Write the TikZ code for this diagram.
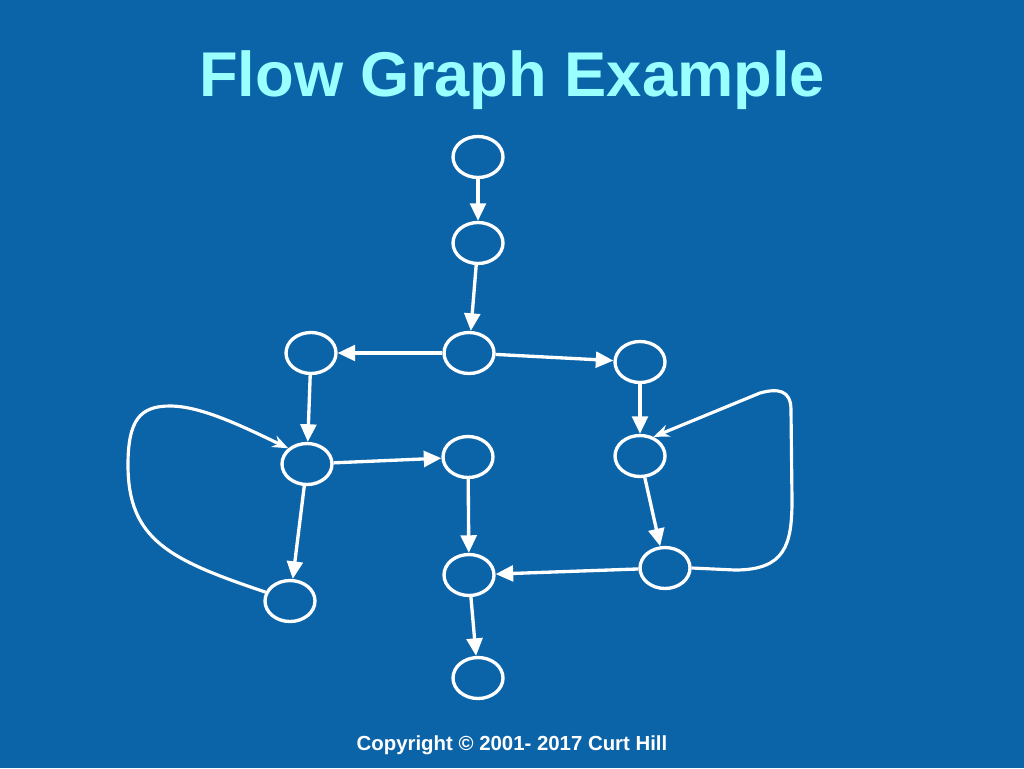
\documentclass[tikz,border=0pt]{standalone}
\usepackage{fontspec}
\setmainfont{Liberation Sans}
\usetikzlibrary{arrows.meta,shapes.geometric}
\definecolor{slidebg}{HTML}{0B63A8}
\definecolor{titlecyan}{HTML}{99FFFF}
\begin{document}
\begin{tikzpicture}[x=0.02cm,y=-0.02cm,
    vertex/.style={draw=white,line width=1.9pt,ellipse,minimum width=1.0cm,minimum height=0.82cm,inner sep=0pt},
    edge/.style={draw=white,line width=1.9pt,-{Triangle[length=10pt,width=9pt]}},
    backedge/.style={draw=white,line width=1.8pt,-{Stealth[length=9pt,width=7pt]}}]
      \fill[slidebg] (0,0) rectangle (1024,768);
      \node[text=titlecyan,font=\bfseries\fontsize{36}{40}\selectfont] (title) at (512,80) {Flow Graph Example};
      \node[text=white,font=\bfseries\fontsize{11.6}{13}\selectfont] (copy) at (512,745) {Copyright © 2001- 2017 Curt Hill};
      \draw
        (478,157) node[vertex] (1){}
        (478,243) node[vertex] (2){}
        (469,353) node[vertex] (3){}
        (311,353) node[vertex] (4){}
        (640,362) node[vertex] (5){}
        (307,464) node[vertex] (6){}
        (468,457) node[vertex] (7){}
        (640,456) node[vertex] (8){}
        (290,601) node[vertex] (9){}
        (469,575) node[vertex] (10){}
        (665,568) node[vertex] (11){}
        (478,678) node[vertex] (12){};
      \begin{scope}[edge]
        \draw (1) to (2);
        \draw (2) to (3);
        \draw (3) to (4);
        \draw (3) to (5);
        \draw (4) to (6);
        \draw (5) to (8);
        \draw (6) to (7);
        \draw (6) to (9);
        \draw (7) to (10);
        \draw (8) to (11);
        \draw (11) to (10);
        \draw (10) to (12);
      \end{scope}
      \begin{scope}[backedge]
        \draw (9.160) .. controls (170,560) and (128,540) .. (128,465)
          .. controls (128,420) and (140,406) .. (170,406)
          .. controls (200,406) and (240,425) .. (6.140);
        \draw (11.east) -- (735,570) .. controls (785,570) and (792,545) .. (792,500)
          -- (791,410) .. controls (791,390) and (778,388) .. (760,393) -- (8.55);
      \end{scope}
    \end{tikzpicture}
\end{document}
